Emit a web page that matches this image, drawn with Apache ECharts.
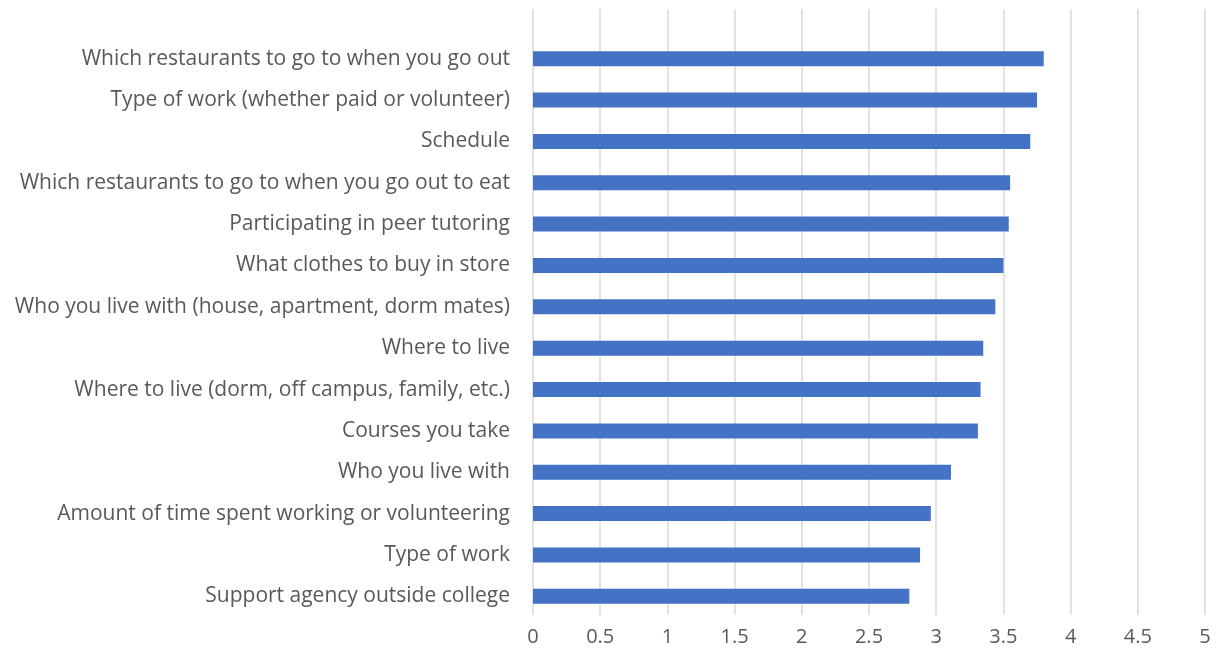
<!DOCTYPE html>
<html>
<head>
<meta charset="utf-8">
<script src="https://cdn.jsdelivr.net/npm/echarts@6/dist/echarts.min.js"></script>
<style>
  html, body { margin: 0; padding: 0; background: #ffffff; }
  #chart { width: 1223px; height: 658px; }
</style>
</head>
<body>
<div id="chart"></div>
<script>
// Decision areas, listed top to bottom
const categories = [
  'Which restaurants to go to when you go out',
  'Type of work (whether paid or volunteer)',
  'Schedule',
  'Which restaurants to go to when you go out to eat',
  'Participating in peer tutoring',
  'What clothes to buy in store',
  'Who you live with (house, apartment, dorm mates)',
  'Where to live',
  'Where to live (dorm, off campus, family, etc.)',
  'Courses you take',
  'Who you live with',
  'Amount of time spent working or volunteering',
  'Type of work',
  'Support agency outside college'
];

// Mean rating for each decision area
const meanScores = [3.80, 3.75, 3.70, 3.55, 3.54, 3.50, 3.44, 3.35, 3.33, 3.31, 3.11, 2.96, 2.88, 2.80];

// Value axis range and tick step
const axisMin = 0;
const axisMax = 5;
const axisStep = 0.5;

const textColor = '#595959';
const gridColor = '#d9d9d9';
const fontFamily = '"Open Sans", "Liberation Sans", sans-serif';

const chart = echarts.init(document.getElementById('chart'));

chart.setOption({
  animation: false,
  backgroundColor: '#ffffff',
  grid: [
    // Gridlines and value-axis labels span the full plot height
    { left: 533, right: 18, top: 9, bottom: 43 },
    // Bars and category labels
    { left: 533, right: 18, top: 38, bottom: 41 }
  ],
  xAxis: [
    {
      gridIndex: 0,
      type: 'value',
      min: axisMin,
      max: axisMax,
      interval: axisStep,
      axisLine: { show: false },
      axisTick: { show: false },
      axisLabel: {
        color: textColor,
        fontSize: 20,
        fontFamily: fontFamily,
        margin: 12
      },
      splitLine: { show: true, lineStyle: { color: gridColor, width: 1.5 } }
    },
    {
      gridIndex: 1,
      type: 'value',
      min: axisMin,
      max: axisMax,
      interval: axisStep,
      show: false
    }
  ],
  yAxis: [
    {
      gridIndex: 0,
      type: 'value',
      show: false,
      min: 0,
      max: 1
    },
    {
      gridIndex: 1,
      type: 'category',
      data: categories,
      inverse: true,
      axisLine: { show: false },
      axisTick: { show: false },
      axisLabel: {
        color: textColor,
        fontSize: 21,
        fontFamily: fontFamily,
        margin: 23
      }
    }
  ],
  series: [
    {
      type: 'bar',
      xAxisIndex: 1,
      yAxisIndex: 1,
      data: meanScores,
      barWidth: 15,
      itemStyle: { color: '#4472c4' }
    }
  ]
});
</script>
</body>
</html>
